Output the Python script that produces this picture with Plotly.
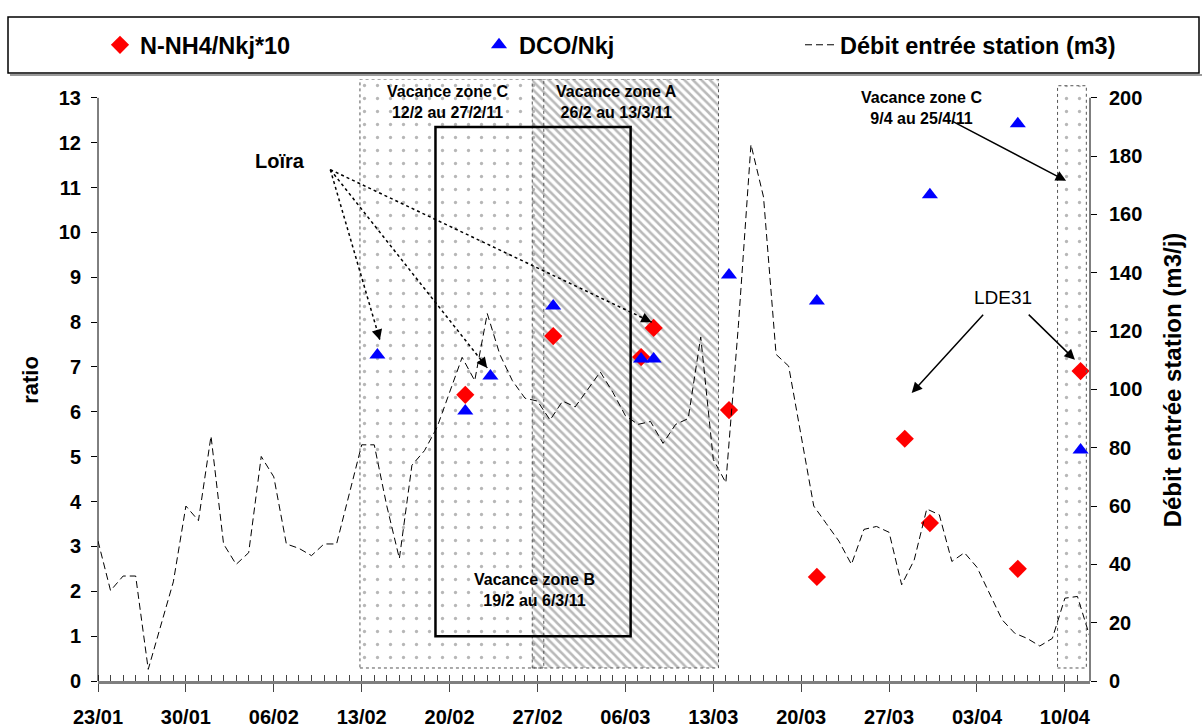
import math
import pandas as pd
import plotly.graph_objects as go

# ---------------- data ----------------
START = pd.Timestamp("2011-01-23")
END = pd.Timestamp("2011-04-12")

# daily inflow (m3/j), from 23/01/2011
flow_dates = pd.date_range(START, periods=80, freq="D")
flow_values = [48, 31, 36, 36, 4, 19, 34, 60, 55, 84,
               47, 40, 44, 77, 70, 47, 45.5, 43, 47, 47,
               64, 81, 81, 60, 42, 74, 79, 87, 99, 111,
               103, 126, 112, 103, 97, 96, 89.5, 96, 94, 100,
               106, 99, 91, 88, 89, 81.5, 88, 90, 118, 76,
               68, 122, 184, 166, 112, 108, 84, 60, 54, 48,
               40, 52, 53, 51, 33, 41.5, 59, 57, 41, 44,
               39, 30, 21, 16.4, 14.6, 12, 14.6, 28.4, 29, 15]

nh4_dates = ["2011-02-21 06:00", "2011-02-28 06:00", "2011-03-07 06:00", "2011-03-08 06:00",
             "2011-03-14 06:00", "2011-03-21 06:00", "2011-03-28 06:00", "2011-03-30 06:00",
             "2011-04-06 06:00", "2011-04-11 06:00"]
nh4_values = [6.38, 7.69, 7.22, 7.87, 6.04, 2.32, 5.40, 3.52, 2.50, 6.91]

dco_dates = ["2011-02-14 06:00", "2011-02-21 06:00", "2011-02-23 06:00", "2011-02-28 06:00",
             "2011-03-07 06:00", "2011-03-08 06:00", "2011-03-14 06:00", "2011-03-21 06:00",
             "2011-03-30 06:00", "2011-04-06 06:00", "2011-04-11 06:00"]
dco_values = [7.27, 6.02, 6.80, 8.36, 7.18, 7.18, 9.05, 8.47, 10.84, 12.42, 5.15]

tick_dates = pd.date_range(START, periods=12, freq="7D")
tick_labels = ["23/01", "30/01", "06/02", "13/02", "20/02", "27/02",
               "06/03", "13/03", "20/03", "27/03", "03/04", "10/04"]

# holiday zones (patterned)
zone_starts = ["2011-02-12 20:40", "2011-02-26 14:00", "2011-04-09 10:00"]
zone_ends = ["2011-02-27 12:00", "2011-03-13 10:00", "2011-04-11 17:00"]
zone_bottoms = [0.29, 0.29, 0.29]
zone_tops = [13.42, 13.42, 13.27]
zone_patterns = [".", "\\", "."]
zone_b = ("2011-02-18 21:00", "2011-03-06 10:00", 1.0, 12.35)

# ---------------- layout constants ----------------
W, H = 1202, 728
ML, MR, MT, MB = 98, 112, 79, 47
PW, PH = W - ML - MR, H - MT - MB
Y_TOP = 13.42
Y2_TOP = Y_TOP * 200 / 13
PX_DAY = PW / (END - START).days
PX_UNIT = PH / Y_TOP
FONT = "Liberation Sans, Arial, sans-serif"


def day(d):
    return START + pd.Timedelta(days=d)


fig = go.Figure()

# zones as patterned bars
for s, e, b, t, p in zip(zone_starts, zone_ends, zone_bottoms, zone_tops, zone_patterns):
    s, e = pd.Timestamp(s), pd.Timestamp(e)
    if p == ".":
        pat = dict(shape=".", fgcolor="#6f6f6f", bgcolor="rgba(255,255,255,0)", size=13, solidity=0.05)
    else:
        pat = dict(shape="\\", fgcolor="#747474", bgcolor="rgba(255,255,255,0)", size=6, solidity=0.42)
    fig.add_trace(go.Bar(x=[s + (e - s) / 2], y=[t - b], base=[b],
                         width=[(e - s).total_seconds() * 1000],
                         marker=dict(color="rgba(255,255,255,0)", line=dict(width=0), pattern=pat),
                         showlegend=False, hoverinfo="skip", yaxis="y"))
    fig.add_shape(type="rect", xref="x", yref="y", x0=s, x1=e, y0=b, y1=t,
                  line=dict(color="#555555", width=1, dash="dot"), layer="above")

# flow line
fig.add_trace(go.Scatter(x=flow_dates, y=flow_values, mode="lines", yaxis="y2",
                         name="Débit entrée station (m3)", legend="legend3",
                         line=dict(color="black", width=1, dash="7px,4px")))
# markers
fig.add_trace(go.Scatter(x=nh4_dates, y=nh4_values, mode="markers", name="N-NH4/Nkj*10",
                         legend="legend",
                         marker=dict(symbol="diamond", size=14, color="#ff0000")))
fig.add_trace(go.Scatter(x=dco_dates, y=dco_values, mode="markers", name="DCO/Nkj",
                         legend="legend2",
                         marker=dict(symbol="triangle-up", size=14, color="#0000ff")))

# zone B rectangle
fig.add_shape(type="rect", xref="x", yref="y", x0=zone_b[0], x1=zone_b[1], y0=zone_b[2], y1=zone_b[3],
              line=dict(color="black", width=2.5), layer="above")

# axis lines drawn to the 13 mark
fig.add_shape(type="line", xref="paper", yref="y", x0=0, x1=0, y0=0, y1=13,
              line=dict(color="black", width=1))
fig.add_shape(type="line", xref="paper", yref="y", x0=1, x1=1, y0=0, y1=13,
              line=dict(color="#7f7f7f", width=2))

# legend frame
fig.add_shape(type="rect", xref="paper", yref="paper",
              x0=(8 - ML) / PW, x1=(1199 - ML) / PW, y0=(681 - 73) / PH, y1=(681 - 17) / PH,
              line=dict(color="black", width=1.5))
fig.add_shape(type="line", xref="paper", yref="paper",
              x0=(10 - ML) / PW, x1=(1202 - ML) / PW, y0=(681 - 75) / PH, y1=(681 - 75) / PH,
              line=dict(color="#9a9a9a", width=2))

# texts
zfont = dict(family=FONT, size=16, color="black", weight="bold")
texts = [
    (27.8, 12.91, "Vacance zone C<br>12/2 au 27/2/11"),
    (41.3, 12.91, "Vacance zone A<br>26/2 au 13/3/11"),
    (34.8, 2.03, "Vacance zone B<br>19/2 au 6/3/11"),
    (65.6, 12.78, "Vacance zone C<br>9/4 au 25/4/11"),
]
for dx, yv, tx in texts:
    fig.add_annotation(x=day(dx), y=yv, xref="x", yref="y", text=tx, showarrow=False,
                       font=zfont, align="center")

fig.add_annotation(x=day(14.5), y=11.6, xref="x", yref="y", text="Loïra", showarrow=False,
                   font=dict(family=FONT, size=20, color="black", weight="bold"))
fig.add_annotation(x=day(72.1), y=8.54, xref="x", yref="y", text="LDE31", showarrow=False,
                   font=dict(family=FONT, size=19, color="black"))

# Loïra dotted arrows
loira_origin = (18.5, 11.4)
loira_tips = [(22.45, 7.6), (31.0, 6.98), (44.1, 8.0)]
for tdx, ty in loira_tips:
    fig.add_shape(type="line", xref="x", yref="y", x0=day(loira_origin[0]), y0=loira_origin[1],
                  x1=day(tdx), y1=ty, line=dict(color="black", width=1.5, dash="dot"))
    dxp = (tdx - loira_origin[0]) * PX_DAY
    dyp = (ty - loira_origin[1]) * PX_UNIT
    n = math.hypot(dxp, dyp)
    fig.add_annotation(x=day(tdx), y=ty, xref="x", yref="y", text="", showarrow=True,
                       ax=-dxp / n * 12, ay=dyp / n * 12, arrowhead=2, arrowsize=1.4,
                       arrowwidth=1.5, arrowcolor="black", standoff=0)

# solid arrows
solid_arrows = [((70.6, 8.2), (64.8, 6.42)), ((74.0, 8.2), (77.8, 7.16)), ((67.9, 12.5), (77.1, 11.15))]
for (odx, oy), (tdx, ty) in solid_arrows:
    fig.add_annotation(x=day(tdx), y=ty, xref="x", yref="y", ax=day(odx), ay=oy,
                       axref="x", ayref="y", text="", showarrow=True, arrowhead=2,
                       arrowsize=1.4, arrowwidth=1.5, arrowcolor="black", standoff=0)

tick_font = dict(family=FONT, size=20, color="black", weight="bold")
title_font = dict(family=FONT, size=22, color="black", weight="bold")
title2_font = dict(family=FONT, size=24, color="black", weight="bold")
legend_font = dict(family=FONT, size=23.5, color="black", weight="bold")

fig.update_layout(
    width=W, height=H, autosize=False,
    margin=dict(l=ML, r=MR, t=MT, b=MB, autoexpand=False),
    paper_bgcolor="white", plot_bgcolor="white",
    font=dict(family=FONT, color="black"),
    barmode="overlay",
    xaxis=dict(type="date", range=[START, END], tickmode="array", tickvals=tick_dates,
               ticktext=tick_labels, ticks="outside", ticklen=8, tickcolor="#444",
               tickfont=tick_font, ticklabelstandoff=8, automargin=False,
               minor=dict(dtick=86400000, tick0=START, ticks="inside", ticklen=6, tickcolor="#444"),
               showline=True, linecolor="#7f7f7f", linewidth=3, showgrid=False, zeroline=False),
    yaxis=dict(range=[0, Y_TOP], tickmode="array", tickvals=list(range(14)), ticks="outside",
               ticklen=6, tickcolor="black", tickfont=tick_font, ticklabelstandoff=6,
               showline=False, showgrid=False, zeroline=False, automargin=False,
               title=dict(text="ratio", font=title_font, standoff=14)),
    yaxis2=dict(range=[0, Y2_TOP], overlaying="y", side="right", tickmode="array",
                tickvals=list(range(0, 201, 20)), ticks="outside", ticklen=6, tickcolor="black",
                tickfont=tick_font, ticklabelstandoff=8, showline=False, showgrid=False,
                zeroline=False, automargin=False,
                title=dict(text="Débit entrée station (m3/j)", font=title2_font, standoff=22)),
    legend=dict(x=(100 - ML) / PW, y=(681 - 45) / PH, xanchor="left", yanchor="middle",
                orientation="h", font=legend_font, bgcolor="rgba(0,0,0,0)"),
    legend2=dict(x=(479 - ML) / PW, y=(681 - 45) / PH, xanchor="left", yanchor="middle",
                 orientation="h", font=legend_font, bgcolor="rgba(0,0,0,0)"),
    legend3=dict(x=(800 - ML) / PW, y=(681 - 45) / PH, xanchor="left", yanchor="middle",
                 orientation="h", font=legend_font, bgcolor="rgba(0,0,0,0)"),
)

fig.write_html("out.html", config={"displayModeBar": False},
               post_script="document.body.style.margin='0px';")
